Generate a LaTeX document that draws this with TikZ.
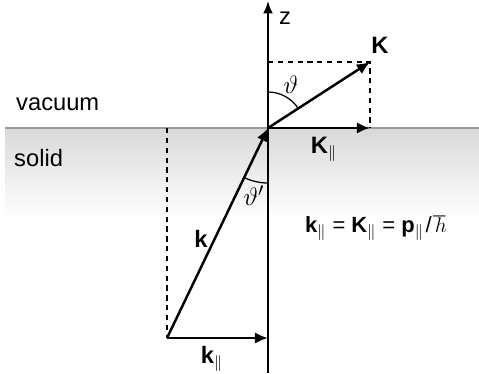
\documentclass[tikz,border=0pt]{standalone}
\usepackage{amsmath}
\usepackage{amssymb}
\usepackage{fontspec}
\setmainfont{Liberation Sans}
\usetikzlibrary{arrows.meta}
\definecolor{surfGray}{HTML}{9A9A9A}

\tikzset{
  vec/.style={line width=1.4pt, -{Latex[length=7.5pt,width=6.5pt]}},
  guide/.style={line width=1.2pt, dash pattern=on 3pt off 2.6pt},
  lbl/.style={font=\fontsize{13.5}{16}\selectfont},
  anglbl/.style={font=\fontsize{15}{18}\selectfont}
}

\begin{document}
\begin{tikzpicture}[x=0.02cm,y=0.02cm]
\useasboundingbox (0,0) rectangle (479,373);
\shade[top color=black!15, bottom color=white] (5,155) rectangle (479,245);
\draw[surfGray, line width=0.8pt] (5,245) -- (479,245);

\coordinate (O) at (268,245);
\coordinate (zbot) at (268,0);
\coordinate (ztop) at (268,372);
\coordinate (Ktip) at (370,311);
\coordinate (Kpar) at (370,245);
\coordinate (Kz) at (268,311);
\coordinate (kstart) at (167,35);
\coordinate (kpar) at (268,35);
\coordinate (ksurf) at (167,245);

% axis
\draw[line width=1pt, -{Latex[length=7pt,width=5.5pt]}] (zbot) -- (ztop);
\node[lbl, anchor=west] (zlab) at (273,355) {z};

\node[lbl, anchor=west] (vac) at (10,269) {vacuum};
\node[lbl, anchor=west] (sol) at (8,215) {solid};

% vacuum side
\draw[guide] (Kz) -- (Ktip) -- (Kpar);
\draw[vec] (O) -- (Ktip);
\draw[vec] (O) -- (Kpar);
\draw[line width=0.7pt] (268,281) arc[start angle=90, end angle=32.9, radius=36];
\node[lbl] (Klab) at (380,328) {\textbf{K}};
\node[lbl] (Kparlab) at (324,224) {\textbf{K}$_\parallel$};
\node[anglbl] (thlab) at (291,288) {$\vartheta$};

% solid side
\draw[guide] (ksurf) -- (kstart);
\draw[vec] (kstart) -- (O);
\draw[vec] (kstart) -- (kpar);
\draw[line width=0.7pt] (268,190) arc[start angle=270, end angle=244.3, radius=55];
\node[lbl] (klab) at (201,134) {\textbf{k}};
\node[lbl] (kparlab) at (212,14) {\textbf{k}$_\parallel$};
\node[anglbl] (thplab) at (254,177) {$\vartheta'$};

\node[font=\fontsize{12.5}{15}\selectfont] (eq) at (376,145) {\textbf{k}$_\parallel$ = \textbf{K}$_\parallel$ = \textbf{p}$_\parallel$\kern1pt/\kern1pt$\hbar$};
\end{tikzpicture}
\end{document}
